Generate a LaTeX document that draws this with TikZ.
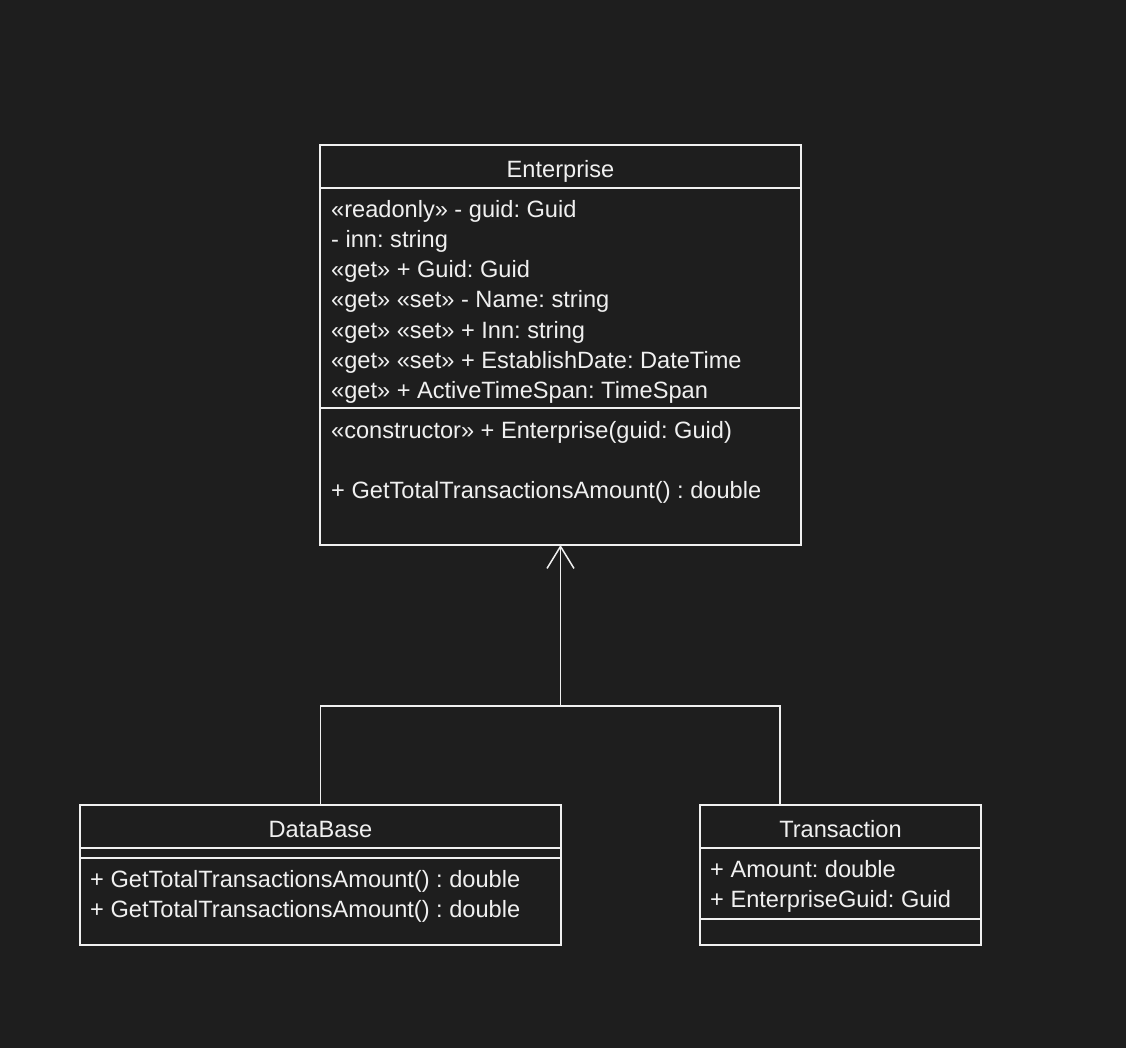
\documentclass[tikz,border=0pt]{standalone}
\usepackage{fontspec}
\setmainfont{Liberation Sans}
\usetikzlibrary{arrows.meta}
\definecolor{bg}{HTML}{1E1E1E}
\definecolor{fg}{HTML}{F0F0F0}
\frenchspacing
\begin{document}
\begin{tikzpicture}[x=1pt,y=-1pt,
  box/.style={draw=fg, line width=1.5pt, anchor=north west, inner sep=0pt, outer sep=0pt},
  txt/.style={anchor=base west, inner sep=0pt, text=fg, font=\fontsize{23.6}{28}\selectfont},
  ttl/.style={anchor=base, inner sep=0pt, text=fg, font=\fontsize{23.6}{28}\selectfont},
  sep/.style={draw=fg, line width=1.5pt},
  conn/.style={draw=fg, line width=1.5pt}]
\fill[bg] (0,0) rectangle (1126,1048);
\useasboundingbox (0,0) rectangle (1126,1048);
% Enterprise
\node[box, minimum width=481pt, minimum height=400pt] (ent) at (320,145) {};
\node[ttl] (entt) at (560.5,178) {Enterprise};
\draw[sep] (320,188) -- (801,188);
\node[txt] (e1) at (331,218) {«readonly» - guid: Guid};
\node[txt] (e2) at (331,248) {- inn: string};
\node[txt] (e3) at (331,278) {«get» + Guid: Guid};
\node[txt] (e4) at (331,308) {«get» «set» - Name: string};
\node[txt] (e5) at (331,338) {«get» «set» + Inn: string};
\node[txt] (e6) at (331,368) {«get» «set» + EstablishDate: DateTime};
\node[txt] (e7) at (331,398) {«get» + ActiveTimeSpan: TimeSpan};
\draw[sep] (320,408) -- (801,408);
\node[txt] (e8) at (331,438) {«constructor» + Enterprise(guid: Guid)};
\node[txt] (e9) at (331,498) {+ GetTotalTransactionsAmount() : double};
% DataBase
\node[box, minimum width=481pt, minimum height=140pt] (db) at (80,805) {};
\node[ttl] (dbt) at (320.5,837) {DataBase};
\draw[sep] (80,848) -- (561,848);
\draw[sep] (80,858) -- (561,858);
\node[txt] (d1) at (90,887) {+ GetTotalTransactionsAmount() : double};
\node[txt] (d2) at (90,917) {+ GetTotalTransactionsAmount() : double};
% Transaction
\node[box, minimum width=281pt, minimum height=140pt] (tr) at (700,805) {};
\node[ttl] (trt) at (840.5,837) {Transaction};
\draw[sep] (700,848) -- (981,848);
\node[txt] (t1) at (710,877) {+ Amount: double};
\node[txt] (t2) at (710,907) {+ EnterpriseGuid: Guid};
\draw[sep] (700,919) -- (981,919);
% connectors
\coordinate (j) at (560.5,706);
\coordinate (tj) at (780,706);
\draw[conn, -{Straight Barb[length=22pt,width=27pt,line width=1.5pt]}] (db.north) |- (j) -- (ent.south);
\draw[conn] (tr.north -| tj) -- (tj) -- (j);
\end{tikzpicture}
\end{document}
